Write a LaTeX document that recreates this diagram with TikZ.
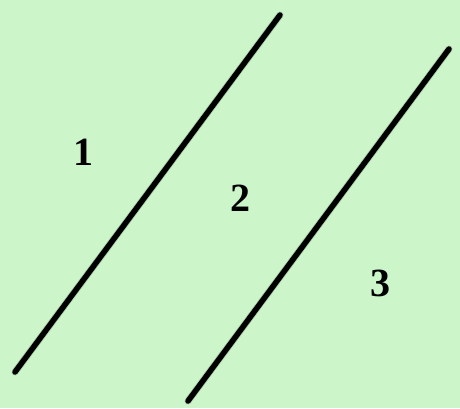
\documentclass[tikz,border=0pt]{standalone}
\usepackage{fontspec}
\setmainfont{Liberation Serif}
\definecolor{bggreen}{RGB}{205,245,202}
\definecolor{shadowgreen}{RGB}{120,160,120}
\begin{document}
\begin{tikzpicture}[x=1pt, y=-1pt, line cap=round, line join=round,
                    boundary/.style={line width=5.5pt, black},
                    halo/.style={line width=7pt, shadowgreen, opacity=0.25},
                    region/.style={font=\fontsize{40}{46}\selectfont\bfseries}]
  % Background panel
  \useasboundingbox (0,0) rectangle (460,408);
  \fill[bggreen] (0,0) rectangle (460,408);

  % End points of the two parallel lines
  \coordinate (p1) at (15, 372);
  \coordinate (q1) at (280, 15);
  \coordinate (p2) at (188, 401);
  \coordinate (q2) at (449, 49);

  % Soft shadows (offset down-right)
  \foreach \d in {3, 5} {
    \draw[halo, shift={(\d,\d)}] (p1) -- (q1);
    \draw[halo, shift={(\d,\d)}] (p2) -- (q2);
  }

  % The lines
  \draw[boundary] (p1) -- (q1);
  \draw[boundary] (p2) -- (q2);

  % Region labels
  \foreach \n/\x/\y in {1/83/152, 2/240/198, 3/380/283}
    \node[region] (r\n) at (\x, \y) {\n};
\end{tikzpicture}
\end{document}
